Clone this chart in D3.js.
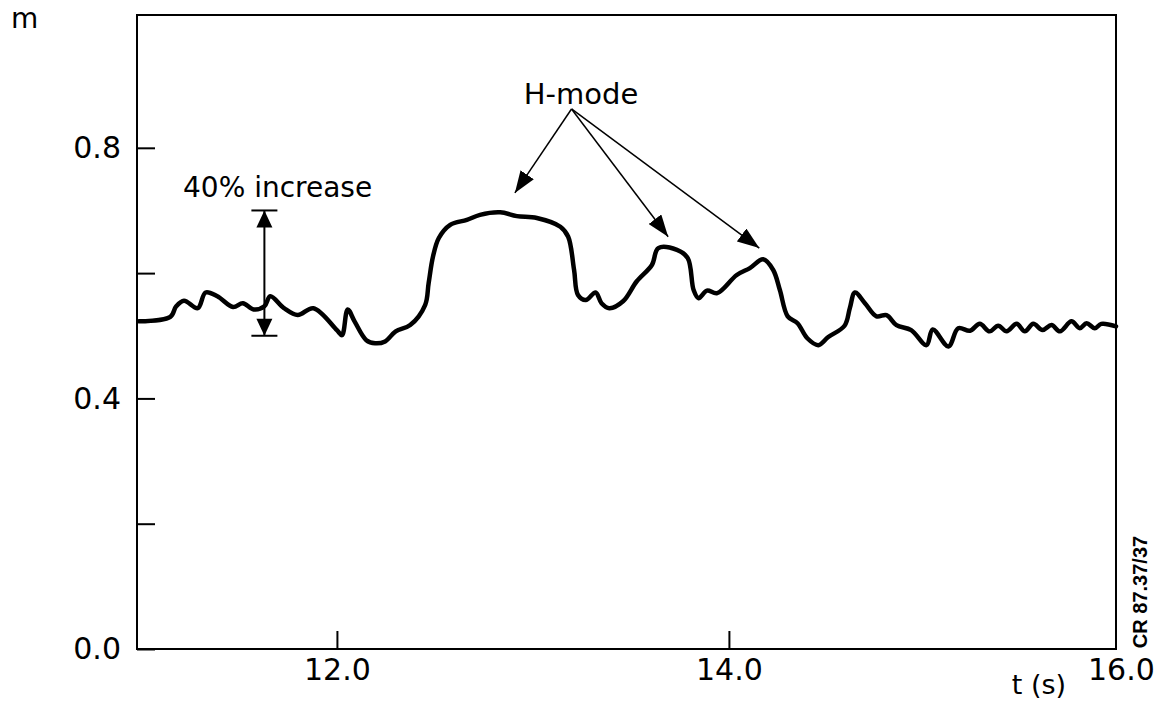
<!DOCTYPE html>
<html>
<head>
<meta charset="utf-8">
<script src="https://cdn.jsdelivr.net/npm/d3@7"></script>
<style>
  body { margin: 0; background: #fff; }
  svg { display: block; font-family: "DejaVu Sans", sans-serif; }
</style>
</head>
<body>
<svg width="1161" height="713"></svg>
<script>
// signal trace
const times = [10.99, 11.15, 11.18, 11.22, 11.29, 11.33, 11.39, 11.47, 11.52, 11.575, 11.63, 11.66, 11.73, 11.80, 11.88, 12.0,
    12.026, 12.055, 12.09, 12.15, 12.195, 12.246, 12.30, 12.374, 12.45, 12.468, 12.49, 12.52, 12.578, 12.663, 12.73, 12.833, 12.918, 13.02,
    13.14, 13.18, 13.21, 13.23, 13.27, 13.32, 13.35, 13.39, 13.46, 13.53, 13.607, 13.64, 13.735, 13.79, 13.82, 13.845, 13.888, 13.94, 14.04,
    14.107, 14.175, 14.226, 14.26, 14.30, 14.35, 14.40, 14.456, 14.507, 14.59, 14.617, 14.643, 14.694, 14.753, 14.804, 14.855, 14.93,
    15.008, 15.04, 15.12, 15.17, 15.23, 15.28, 15.33, 15.374, 15.417, 15.468, 15.51, 15.553, 15.60, 15.646, 15.689, 15.748, 15.79,
    15.825, 15.867, 15.90, 15.975];
const values = [0.523, 0.530, 0.547, 0.556, 0.544, 0.569, 0.563, 0.546, 0.552, 0.542, 0.547, 0.563, 0.544, 0.533, 0.544, 0.509,
    0.501, 0.542, 0.523, 0.493, 0.488, 0.491, 0.507, 0.517, 0.549, 0.584, 0.626, 0.656, 0.677, 0.685, 0.693, 0.697, 0.691, 0.688,
    0.674, 0.658, 0.605, 0.565, 0.557, 0.569, 0.552, 0.544, 0.555, 0.587, 0.613, 0.640, 0.637, 0.624, 0.573, 0.560, 0.572, 0.568, 0.597,
    0.608, 0.622, 0.605, 0.573, 0.531, 0.520, 0.496, 0.485, 0.498, 0.516, 0.544, 0.569, 0.552, 0.531, 0.533, 0.517, 0.509,
    0.485, 0.510, 0.483, 0.512, 0.508, 0.519, 0.507, 0.516, 0.507, 0.519, 0.507, 0.519, 0.509, 0.517, 0.507, 0.523, 0.512,
    0.520, 0.512, 0.519, 0.515];

const yTicks = [0, 0.2, 0.4, 0.6, 0.8];
const yTickLabels = ["0.0", "", "0.4", "", "0.8"];
const xTicks = [12, 14, 16];
const xTickLabels = ["12.0", "14.0", "16.0"];

// annotations
const increase = {t: 11.63, lo: 0.5, hi: 0.7, label: "40% increase"};
const hmodeFrom = {t: 13.197, v: 0.862, label: "H-mode"};
const hmodeTips = [
    {t: 12.908, v: 0.728},
    {t: 13.69, v: 0.658},
    {t: 14.155, v: 0.640}
];

const svg = d3.select("svg");

const x = d3.scaleLinear().domain([10.98, 15.975]).range([137, 1116]);
const y = d3.scaleLinear().domain([0, 1.012]).range([649, 15]);

const defs = svg.append("defs");
defs.append("marker")
    .attr("id", "head")
    .attr("markerUnits", "userSpaceOnUse")
    .attr("viewBox", "0 0 22 16")
    .attr("markerWidth", 22)
    .attr("markerHeight", 16)
    .attr("refX", 22)
    .attr("refY", 8)
    .attr("orient", "auto")
    .append("path")
    .attr("d", "M0,0 L22,8 L0,16 Z")
    .attr("fill", "#000");

// frame
svg.append("rect")
    .attr("x", x.range()[0])
    .attr("y", y.range()[1])
    .attr("width", x.range()[1] - x.range()[0])
    .attr("height", y.range()[0] - y.range()[1])
    .attr("fill", "none")
    .attr("stroke", "#000")
    .attr("stroke-width", 2);

const yAxis = svg.append("g")
    .attr("transform", `translate(${x.range()[0]},0)`)
    .call(d3.axisLeft(y)
        .tickValues(yTicks)
        .tickSizeInner(-18)
        .tickSizeOuter(0)
        .tickPadding(16)
        .tickFormat((d, i) => yTickLabels[i]));

const xAxis = svg.append("g")
    .attr("transform", `translate(0,${y.range()[0]})`)
    .call(d3.axisBottom(x)
        .tickValues(xTicks)
        .tickSizeInner(-18)
        .tickSizeOuter(0)
        .tickPadding(10)
        .tickFormat((d, i) => xTickLabels[i]));

svg.selectAll(".domain").remove();
svg.selectAll(".tick line").attr("stroke", "#000").attr("stroke-width", 2);
xAxis.selectAll(".tick").filter(d => d > x.domain()[1]).select("line").remove();
svg.selectAll(".tick text")
    .attr("font-size", 30)
    .attr("fill", "#000")
    .attr("font-family", "'DejaVu Sans', sans-serif");

// axis titles
svg.append("text")
    .attr("x", 11)
    .attr("y", 28)
    .attr("font-size", 28)
    .text("m");

svg.append("text")
    .attr("x", 1039)
    .attr("y", 694)
    .attr("text-anchor", "middle")
    .attr("font-size", 27)
    .text("t (s)");

svg.append("text")
    .attr("transform", `translate(1147,592) rotate(-90)`)
    .attr("text-anchor", "middle")
    .attr("font-size", 20)
    .attr("font-weight", "bold")
    .attr("font-family", "'Liberation Sans', Arial, sans-serif")
    .text("CR 87.37/37");

// trace
const line = d3.line()
    .x(d => x(d[0]))
    .y(d => y(d[1]))
    .curve(d3.curveCatmullRom.alpha(0.5));

svg.append("path")
    .datum(times.map((t, i) => [t, values[i]]))
    .attr("d", line)
    .attr("fill", "none")
    .attr("stroke", "#000")
    .attr("stroke-width", 4.5)
    .attr("stroke-linejoin", "round")
    .attr("stroke-linecap", "round");

// 40% increase marker
const ix = x(increase.t);
const g40 = svg.append("g");
g40.append("line")
    .attr("x1", ix).attr("x2", ix)
    .attr("y1", y(increase.hi)).attr("y2", y(increase.lo))
    .attr("stroke", "#000").attr("stroke-width", 2);
[increase.hi, increase.lo].forEach(v => {
    g40.append("line")
        .attr("x1", ix - 13).attr("x2", ix + 13)
        .attr("y1", y(v)).attr("y2", y(v))
        .attr("stroke", "#000").attr("stroke-width", 2);
});
g40.append("path")
    .attr("d", `M${ix},${y(increase.hi)} L${ix - 8},${y(increase.hi) + 17} L${ix + 8},${y(increase.hi) + 17} Z`)
    .attr("fill", "#000");
g40.append("path")
    .attr("d", `M${ix},${y(increase.lo)} L${ix - 8},${y(increase.lo) - 17} L${ix + 8},${y(increase.lo) - 17} Z`)
    .attr("fill", "#000");
g40.append("text")
    .attr("x", 183)
    .attr("y", 197)
    .attr("font-size", 28)
    .text(increase.label);

// H-mode arrows
svg.append("text")
    .attr("x", 581)
    .attr("y", 104)
    .attr("text-anchor", "middle")
    .attr("font-size", 29)
    .text(hmodeFrom.label);

svg.append("g")
    .selectAll("line")
    .data(hmodeTips)
    .join("line")
    .attr("x1", x(hmodeFrom.t))
    .attr("y1", y(hmodeFrom.v))
    .attr("x2", d => x(d.t))
    .attr("y2", d => y(d.v))
    .attr("stroke", "#000")
    .attr("stroke-width", 1.5)
    .attr("marker-end", "url(#head)");
</script>
</body>
</html>
